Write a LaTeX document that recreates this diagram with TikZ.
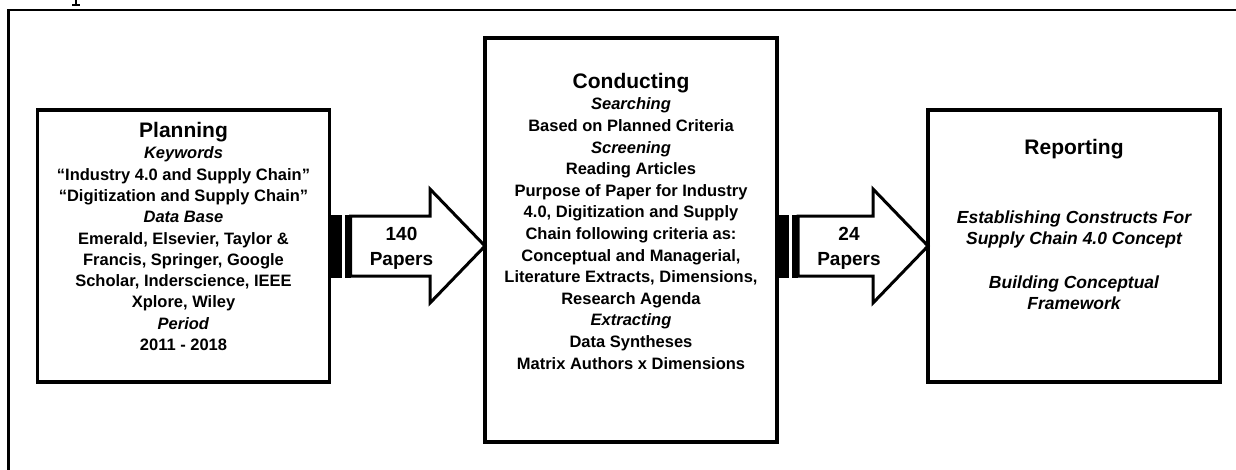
\documentclass[tikz,border=0pt]{standalone}
\usepackage{fontspec}
\setmainfont{Liberation Sans}
\usetikzlibrary{calc}
\newcommand\StripArrow[2]{%
  \fill ($(#1)+(0,-31.5)$) rectangle ($(#1)+(12,31.5)$);
  \fill ($(#1)+(15,-31.5)$) rectangle ($(#1)+(21,31.5)$);
  \draw[arrowline] ($(#1)+(21,-30)$) -- ($(#2)+(-55,-30)$) -- ($(#2)+(-55,-57)$) -- (#2)
     -- ($(#2)+(-55,57)$) -- ($(#2)+(-55,30)$) -- ($(#1)+(21,30)$) -- cycle;
}
\begin{document}
\begin{tikzpicture}[x=1pt,y=-1pt,
  box/.style={draw,line width=3.5pt,inner sep=0pt,outer sep=0pt,minimum width=292pt},
  arrowline/.style={line width=3pt,line join=miter},
  body/.style={align=center,inner sep=0pt,font=\bfseries\fontsize{16.5}{21.3}\selectfont},
  cbody/.style={align=center,inner sep=0pt,font=\bfseries\fontsize{16.5}{21.6}\selectfont},
  rbody/.style={align=center,inner sep=0pt,font=\bfseries\itshape\fontsize{17.5}{21}\selectfont},
  lab/.style={align=center,inner sep=0pt,font=\bfseries\fontsize{19}{25}\selectfont}]
\useasboundingbox (0,0) rectangle (1236,469);
\fill[white] (0,0) rectangle (1236,469);
% outer frame (partly visible)
\draw[line width=2.2pt] (1240,9.8) -- (8.5,9.8) -- (8.5,475);
% cropped glyph fragment at top
\draw[line width=2.5pt] (76,0) -- (76,5);
\draw[line width=1.8pt] (72,5) -- (80,5);
% boxes
\node[box,minimum height=272pt] (plan) at (183.5,246) {};
\node[box,minimum height=404pt] (cond) at (631,240) {};
\node[box,minimum height=272pt] (rep) at (1074,246) {};
% texts (anchor=base is the baseline of the last line)
\node[body,anchor=base] (plantext) at ($(plan.north)+(0,240.5)$) {%
  {\fontsize{21}{21.3}\selectfont Planning}\\
  \textit{Keywords}\\
  “Industry 4.0 and Supply Chain”\\
  “Digitization and Supply Chain”\\
  \textit{Data Base}\\
  Emerald, Elsevier, Taylor \&\\
  Francis, Springer, Google\\
  Scholar, Inderscience, IEEE\\
  Xplore, Wiley\\
  \textit{Period}\\
  2011 - 2018};
\node[cbody,anchor=base] (condtext) at ($(cond.north)+(0,331)$) {%
  {\fontsize{21}{21.6}\selectfont Conducting}\\
  \textit{Searching}\\
  Based on Planned Criteria\\
  \textit{Screening}\\
  Reading Articles\\
  Purpose of Paper for Industry\\
  4.0, Digitization and Supply\\
  Chain following criteria as:\\
  Conceptual and Managerial,\\
  Literature Extracts, Dimensions,\\
  Research Agenda\\
  \textit{Extracting}\\
  Data Syntheses\\
  Matrix Authors x Dimensions};
\node[rbody,anchor=base] (reptext) at ($(rep.north)+(0,199.3)$) {%
  {\upshape\fontsize{21}{21}\selectfont Reporting}\\[48pt]
  Establishing Constructs For\\
  Supply Chain 4.0 Concept\\[23pt]
  Building Conceptual\\
  Framework};
% arrows
\coordinate (t1) at (cond.west |- plan.east);
\coordinate (s2) at (cond.east |- rep.west);
\StripArrow{plan.east}{t1}
\StripArrow{s2}{rep.west}
\node[lab] (l1) at ($(plan.east)+(72,2.5)$) {140\\Papers};
\node[lab] (l2) at ($(s2)+(72,2.5)$) {24\\Papers};
\end{tikzpicture}
\end{document}
